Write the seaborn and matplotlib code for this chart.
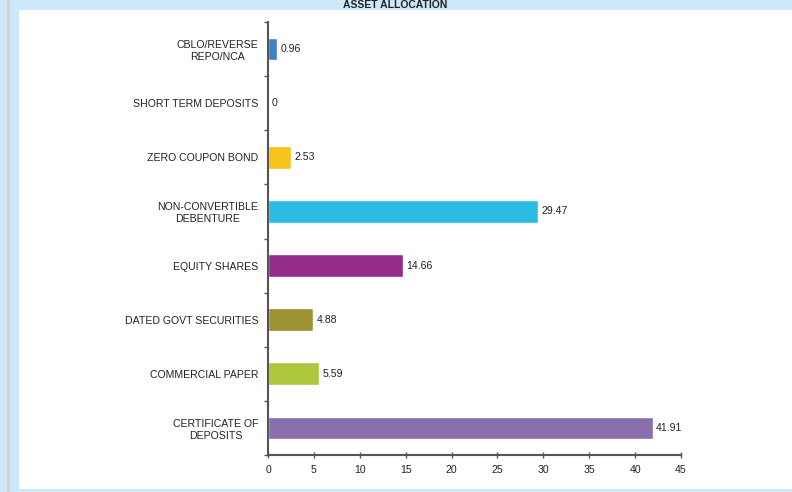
import matplotlib
matplotlib.use("Agg")
import matplotlib.pyplot as plt
from matplotlib.patches import Rectangle
from matplotlib.lines import Line2D
import seaborn as sns
import pandas as pd

categories = [
    "CBLO/REVERSE\nREPO/NCA",
    "SHORT TERM DEPOSITS",
    "ZERO COUPON BOND",
    "NON-CONVERTIBLE\nDEBENTURE",
    "EQUITY SHARES",
    "DATED GOVT SECURITIES",
    "COMMERCIAL PAPER",
    "CERTIFICATE OF\nDEPOSITS",
]
values = [0.96, 0, 2.53, 29.47, 14.66, 4.88, 5.59, 41.91]
value_labels = ["0.96", "0", "2.53", "29.47", "14.66", "4.88", "5.59", "41.91"]
colors = ["#3f80c8", "#3f80c8", "#f6c31d", "#2abce3", "#952a8b",
          "#9f9232", "#abc73b", "#8a6fae"]
x_ticks = [0, 5, 10, 15, 20, 25, 30, 35, 40, 45]

sns.set_theme(style="white")
plt.rcParams["font.family"] = ["Liberation Sans", "DejaVu Sans"]

W, H = 792, 492
FS = 7.6
fig = plt.figure(figsize=(W / 100, H / 100), dpi=100)
fig.patch.set_facecolor("#cde9f9")

# white panel and the grey edge line
fig.patches.append(Rectangle((19 / W, 1 - 489 / H), 1 - 19 / W, (489 - 10) / H,
                             transform=fig.transFigure, facecolor="white",
                             edgecolor="none", zorder=-2))
fig.lines.append(Line2D([8 / W, 8 / W], [0, 1], transform=fig.transFigure,
                        color="#d4d4d4", lw=2.5, zorder=-1))

fig.text(395 / W, 1 - 5 / H, "ASSET ALLOCATION", ha="center", va="center",
         fontsize=7.5, fontweight="bold", color="#222222")

ax = fig.add_axes([268 / W, 1 - 455 / H, (681 - 268) / W, (455 - 22) / H])
ax.set_facecolor("none")
ax.set_zorder(2)

df = pd.DataFrame({"category": categories, "value": values})
sns.barplot(data=df, x="value", y="category", hue="category",
            palette=dict(zip(categories, colors)), orient="h",
            width=0.42, legend=False, ax=ax, saturation=1)

ax.set_xlim(0, 45)
ax.set_ylim(len(categories) - 0.5, -0.5)
ax.set_xticks(x_ticks)
ax.set_xticklabels([str(t) for t in x_ticks], fontsize=FS, color="#222222")
ax.set_yticks(range(len(categories)))
ax.set_yticklabels(categories, fontsize=FS, color="#222222",
                   multialignment="center")
ax.set_yticks([i - 0.5 for i in range(len(categories) + 1)], minor=True)
ax.tick_params(axis="y", which="major", length=0, pad=7)
ax.tick_params(axis="y", which="minor", length=3, width=1, color="#555555",
               direction="out", left=True)
ax.tick_params(axis="x", which="major", length=4, width=1, color="#555555",
               direction="inout", bottom=True, pad=5)
ax.set_xlabel("")
ax.set_ylabel("")

for s in ["top", "right"]:
    ax.spines[s].set_visible(False)
for s in ["left", "bottom"]:
    ax.spines[s].set_color("#555555")
    ax.spines[s].set_linewidth(1.5)

for i, (v, lab) in enumerate(zip(values, value_labels)):
    ax.annotate(lab, (v, i), xytext=(2.5, 0), textcoords="offset points",
                ha="left", va="center", fontsize=FS, color="#222222")

fig.savefig("out.png", dpi=100, facecolor=fig.get_facecolor())
